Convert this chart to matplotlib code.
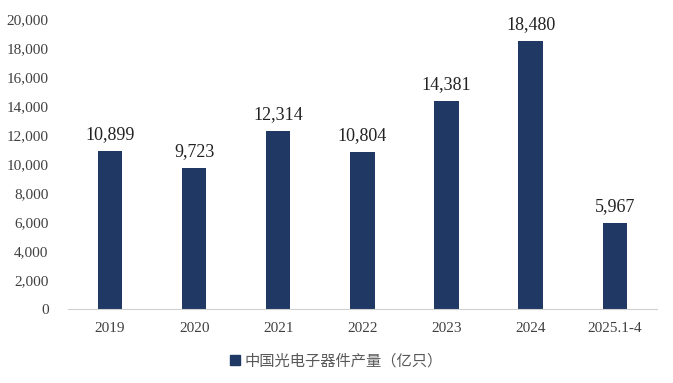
import matplotlib
matplotlib.use("Agg")
import matplotlib.pyplot as plt
from matplotlib.patches import Patch

years = ["2019", "2020", "2021", "2022", "2023", "2024", "2025.1-4"]
output = [10899, 9723, 12314, 10804, 14381, 18480, 5967]
yticks = [0, 2000, 4000, 6000, 8000, 10000, 12000, 14000, 16000, 18000, 20000]
series_name = "中国光电子器件产量（亿只）"

BAR = "#1f3864"
serif = ["Liberation Serif", "DejaVu Serif"]

fig = plt.figure(figsize=(6.73, 3.83), dpi=100)
ax = fig.add_axes([0.101, 0.193, 0.875, 0.757])

x = range(len(years))
ax.bar(x, output, width=0.29, color=BAR, zorder=2)
for i, v in zip(x, output):
    ax.text(i, v + 550, f"{v:,}", ha="center", va="bottom",
            fontsize=13, family=serif, color="#222222")

ax.set_xlim(-0.5, len(years) - 0.5)
ax.set_ylim(0, 20000)
ax.set_yticks(yticks)
ax.set_yticklabels([f"{t:,}" for t in yticks], family=serif, fontsize=11, color="#404040")
ax.set_xticks(list(x))
ax.set_xticklabels(years, family=serif, fontsize=11, color="#404040")
ax.tick_params(length=0, pad=9)
ax.tick_params(axis="y", pad=14)

for s in ["top", "right", "left"]:
    ax.spines[s].set_visible(False)
ax.spines["bottom"].set_color("#d0d0d0")

fig.legend(handles=[Patch(color=BAR, label=series_name)], loc="center",
           bbox_to_anchor=(0.5, 0.058), frameon=False, handlelength=0.7,
           handleheight=0.7, handletextpad=0.3,
           prop={"family": ["Noto Sans CJK SC", "DejaVu Sans"], "size": 11})
for t in fig.legends[0].get_texts():
    t.set_color("#595959")

fig.savefig("out.png", dpi=100)
